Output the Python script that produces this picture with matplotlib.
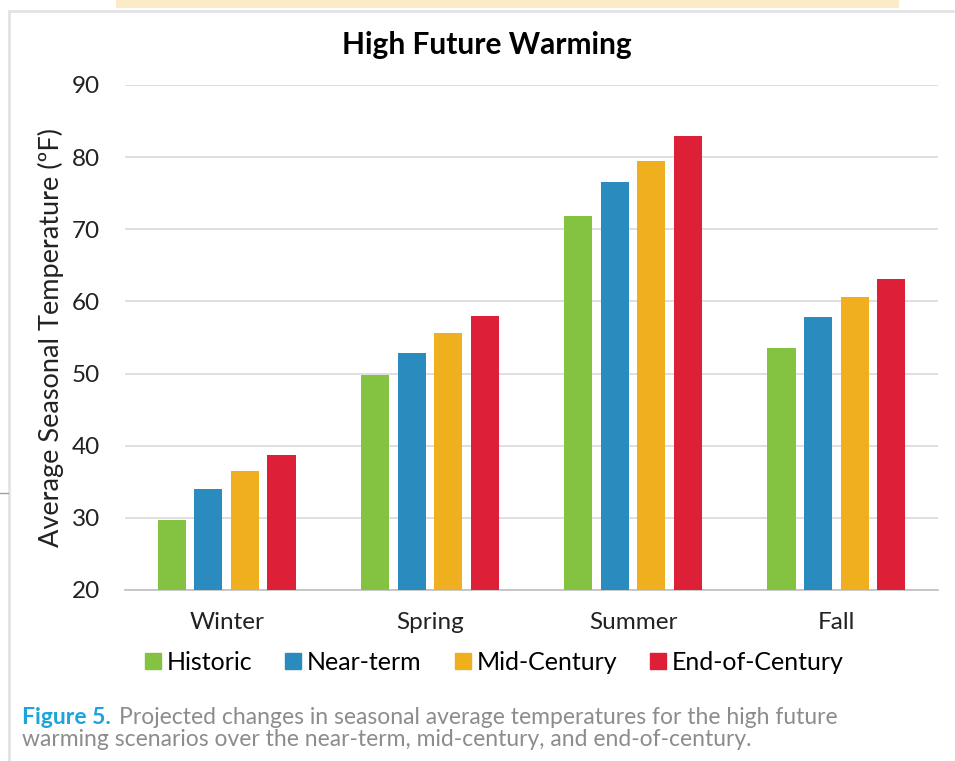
import matplotlib
matplotlib.use("Agg")
import matplotlib.pyplot as plt
from matplotlib.patches import Rectangle
from matplotlib.lines import Line2D
import numpy as np

plt.rcParams['font.family'] = ['Lato', 'DejaVu Sans']

seasons = ["Winter", "Spring", "Summer", "Fall"]
series = ["Historic", "Near-term", "Mid-Century", "End-of-Century"]
historic = [29.7, 49.8, 71.8, 53.5]
near_term = [34.0, 52.9, 76.6, 57.8]
mid_century = [36.5, 55.6, 79.5, 60.6]
end_century = [38.7, 58.0, 82.9, 63.1]
colors = ["#84C341", "#2A8BBF", "#EFAF1F", "#DD1F38"]

values = [historic, near_term, mid_century, end_century]

fig = plt.figure(figsize=(9.55, 7.61), dpi=100)
W, H = 955, 761

# page decorations (box behind the chart)
fig.patches.append(Rectangle((116/W, 1-8/H), (899-116)/W, 8/H, transform=fig.transFigure,
                             facecolor="#FBEBC7", edgecolor="none"))
fig.add_artist(Line2D([9/W, 1], [1-11/H, 1-11/H], color="#E3E3E3", lw=2))
fig.add_artist(Line2D([9/W, 9/W], [0, 1-11/H], color="#E3E3E3", lw=2))
fig.add_artist(Line2D([0, 8/W], [1-493/H, 1-493/H], color="#A0A0A0", lw=1))

ax = fig.add_axes([125/W, 1-590/H, 813/W, 505/H])
x = np.arange(len(seasons))
width = 0.138
step = 0.18
for i, (name, vals) in enumerate(zip(series, values)):
    ax.bar(x + (i - 1.5)*step, np.array(vals) - 20, width, bottom=20,
           color=colors[i], label=name, zorder=3)

ax.set_xlim(-0.5, 3.5)
ax.set_ylim(20, 90)
ax.set_yticks(range(20, 91, 10))
ax.set_xticks(x)
ax.set_xticklabels(seasons, fontsize=17.5)
ax.tick_params(axis='y', labelsize=17.5, length=0, pad=18, colors="#222222")
ax.tick_params(axis='x', length=0, pad=16, colors="#222222")
ax.grid(axis='y', color="#D9D9D9", lw=1.2, zorder=0)
for s in ["top", "right", "left"]:
    ax.spines[s].set_visible(False)
ax.spines["bottom"].set_color("#BFBFBF")
ax.spines["bottom"].set_linewidth(1.2)
ax.set_ylabel("Average Seasonal Temperature (ºF)", fontsize=19.5, color="#222222")
ax.yaxis.set_label_coords(-0.075, 0.5)

fig.text(487/W, 1-45/H, "High Future Warming", fontsize=21.5, fontweight="bold",
         ha="center", va="center")

handles = [Line2D([], [], marker="s", ls="none", markersize=11, color=c) for c in colors]
fig.legend(handles, series, loc="center", bbox_to_anchor=(492/W, 1-662/H), ncol=4,
           frameon=False, fontsize=18, handletextpad=0.05, columnspacing=1.15,
           handlelength=1.0)

fig_lbl = fig.text(22/W, 1-718/H, "Figure 5.", fontsize=16.5, fontweight="bold",
                   color="#1EA4DC", va="center")
fig.canvas.draw()
bb = fig_lbl.get_window_extent()
fig.text((bb.x1 + 8)/W, 1-718/H,
         "Projected changes in seasonal average temperatures for the high future",
         fontsize=16.5, color="#8C8C8C", va="center")
fig.text(22/W, 1-740/H, "warming scenarios over the near-term, mid-century, and end-of-century.",
         fontsize=16.5, color="#8C8C8C", va="center")

fig.savefig("out.png", dpi=100)
